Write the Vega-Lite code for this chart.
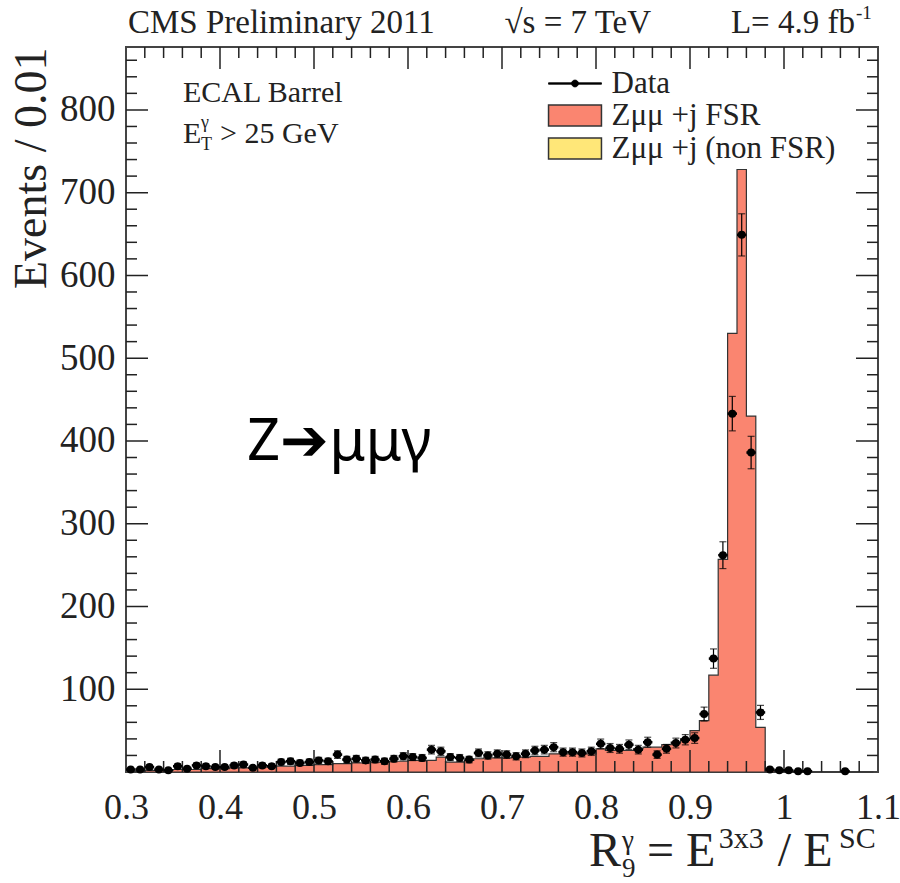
{
  "$schema": "https://vega.github.io/schema/vega-lite/v6.json",
  "autosize": {"type": "none"},
  "width": 752,
  "height": 725,
  "padding": {"left": 126, "top": 47, "right": 22, "bottom": 111},
  "background": "#ffffff",
  "config": {
    "view": {"stroke": "#444444", "strokeWidth": 2},
    "axis": {
      "domain": false,
      "ticks": false,
      "grid": false,
      "labelFont": "Liberation Serif",
      "titleFont": "Liberation Serif",
      "labelColor": "#222222",
      "titleColor": "#222222",
      "labelFontSize": 37,
      "titleFontWeight": "normal"
    },
    "text": {"font": "Liberation Serif", "color": "#222222"}
  },
  "datasets": {
    "r9": [
      {"r9": 0.305, "mc": 1, "n": 3, "err": 1.7},
      {"r9": 0.315, "mc": 1, "n": 3, "err": 1.7},
      {"r9": 0.325, "mc": 2, "n": 6, "err": 2.4},
      {"r9": 0.335, "mc": 2, "n": 3, "err": 1.7},
      {"r9": 0.345, "mc": 2, "n": 2, "err": 1.4},
      {"r9": 0.355, "mc": 3, "n": 7, "err": 2.6},
      {"r9": 0.365, "mc": 3, "n": 4, "err": 2.0},
      {"r9": 0.375, "mc": 3, "n": 8, "err": 2.8},
      {"r9": 0.385, "mc": 4, "n": 7, "err": 2.6},
      {"r9": 0.395, "mc": 4, "n": 6, "err": 2.4},
      {"r9": 0.405, "mc": 4, "n": 6, "err": 2.4},
      {"r9": 0.415, "mc": 5, "n": 8, "err": 2.8},
      {"r9": 0.425, "mc": 5, "n": 9, "err": 3.0},
      {"r9": 0.435, "mc": 5, "n": 5, "err": 2.2},
      {"r9": 0.445, "mc": 6, "n": 8, "err": 2.8},
      {"r9": 0.455, "mc": 6, "n": 7, "err": 2.6},
      {"r9": 0.465, "mc": 7, "n": 12, "err": 3.5},
      {"r9": 0.475, "mc": 7, "n": 13, "err": 3.6},
      {"r9": 0.485, "mc": 8, "n": 11, "err": 3.3},
      {"r9": 0.495, "mc": 8, "n": 12, "err": 3.5},
      {"r9": 0.505, "mc": 9, "n": 14, "err": 3.7},
      {"r9": 0.515, "mc": 9, "n": 13, "err": 3.6},
      {"r9": 0.525, "mc": 10, "n": 21, "err": 4.6},
      {"r9": 0.535, "mc": 10, "n": 15, "err": 3.9},
      {"r9": 0.545, "mc": 11, "n": 16, "err": 4.0},
      {"r9": 0.555, "mc": 11, "n": 14, "err": 3.7},
      {"r9": 0.565, "mc": 12, "n": 15, "err": 3.9},
      {"r9": 0.575, "mc": 12, "n": 13, "err": 3.6},
      {"r9": 0.585, "mc": 13, "n": 16, "err": 4.0},
      {"r9": 0.595, "mc": 13, "n": 19, "err": 4.4},
      {"r9": 0.605, "mc": 14, "n": 18, "err": 4.2},
      {"r9": 0.615, "mc": 14, "n": 17, "err": 4.1},
      {"r9": 0.625, "mc": 14, "n": 27, "err": 5.2},
      {"r9": 0.635, "mc": 18, "n": 25, "err": 5.0},
      {"r9": 0.645, "mc": 12, "n": 18, "err": 4.2},
      {"r9": 0.655, "mc": 12, "n": 17, "err": 4.1},
      {"r9": 0.665, "mc": 14, "n": 15, "err": 3.9},
      {"r9": 0.675, "mc": 16, "n": 23, "err": 4.8},
      {"r9": 0.685, "mc": 17, "n": 20, "err": 4.5},
      {"r9": 0.695, "mc": 17, "n": 22, "err": 4.7},
      {"r9": 0.705, "mc": 17, "n": 21, "err": 4.6},
      {"r9": 0.715, "mc": 18, "n": 19, "err": 4.4},
      {"r9": 0.725, "mc": 18, "n": 22, "err": 4.7},
      {"r9": 0.735, "mc": 19, "n": 26, "err": 5.1},
      {"r9": 0.745, "mc": 19, "n": 27, "err": 5.2},
      {"r9": 0.755, "mc": 22, "n": 30, "err": 5.5},
      {"r9": 0.765, "mc": 22, "n": 24, "err": 4.9},
      {"r9": 0.775, "mc": 22, "n": 24, "err": 4.9},
      {"r9": 0.785, "mc": 22, "n": 23, "err": 4.8},
      {"r9": 0.795, "mc": 22, "n": 25, "err": 5.0},
      {"r9": 0.805, "mc": 28, "n": 34, "err": 5.8},
      {"r9": 0.815, "mc": 26, "n": 29, "err": 5.4},
      {"r9": 0.825, "mc": 26, "n": 28, "err": 5.3},
      {"r9": 0.835, "mc": 26, "n": 33, "err": 5.7},
      {"r9": 0.845, "mc": 28, "n": 27, "err": 5.2},
      {"r9": 0.855, "mc": 30, "n": 36, "err": 6.0},
      {"r9": 0.865, "mc": 30, "n": 21, "err": 4.6},
      {"r9": 0.875, "mc": 33, "n": 28, "err": 5.3},
      {"r9": 0.885, "mc": 36, "n": 35, "err": 5.9},
      {"r9": 0.895, "mc": 40, "n": 39, "err": 6.2},
      {"r9": 0.905, "mc": 50, "n": 41, "err": 6.4},
      {"r9": 0.915, "mc": 62, "n": 70, "err": 8.4},
      {"r9": 0.925, "mc": 117, "n": 137, "err": 11.7},
      {"r9": 0.935, "mc": 257, "n": 262, "err": 16.2},
      {"r9": 0.945, "mc": 530, "n": 433, "err": 20.8},
      {"r9": 0.955, "mc": 728, "n": 649, "err": 25.5},
      {"r9": 0.965, "mc": 430, "n": 386, "err": 19.6},
      {"r9": 0.975, "mc": 54, "n": 72, "err": 8.5},
      {"r9": 0.985, "mc": 2, "n": 3, "err": 1.7},
      {"r9": 0.995, "mc": 0, "n": 2, "err": 1.4},
      {"r9": 1.005, "mc": 0, "n": 2, "err": 1.4},
      {"r9": 1.015, "mc": 0, "n": 1, "err": 1.0},
      {"r9": 1.025, "mc": 0, "n": 1, "err": 1.0},
      {"r9": 1.035, "mc": 0, "n": 0, "err": 0},
      {"r9": 1.045, "mc": 0, "n": 0, "err": 0},
      {"r9": 1.055, "mc": 0, "n": 0, "err": 0},
      {"r9": 1.065, "mc": 0, "n": 1, "err": 1.0},
      {"r9": 1.075, "mc": 0, "n": 0, "err": 0},
      {"r9": 1.085, "mc": 0, "n": 0, "err": 0},
      {"r9": 1.095, "mc": 0, "n": 0, "err": 0}
    ],
    "xTickMajor": [
      {"r9": 0.4, "events": 0}, {"r9": 0.5, "events": 0}, {"r9": 0.6, "events": 0}, {"r9": 0.7, "events": 0},
      {"r9": 0.8, "events": 0}, {"r9": 0.9, "events": 0}, {"r9": 1.0, "events": 0},
      {"r9": 0.4, "events": 876}, {"r9": 0.5, "events": 876}, {"r9": 0.6, "events": 876}, {"r9": 0.7, "events": 876},
      {"r9": 0.8, "events": 876}, {"r9": 0.9, "events": 876}, {"r9": 1.0, "events": 876}
    ],
    "xTickMinor": [
      {"r9": 0.32, "events": 0}, {"r9": 0.34, "events": 0}, {"r9": 0.36, "events": 0}, {"r9": 0.38, "events": 0},
      {"r9": 0.42, "events": 0}, {"r9": 0.44, "events": 0}, {"r9": 0.46, "events": 0}, {"r9": 0.48, "events": 0},
      {"r9": 0.52, "events": 0}, {"r9": 0.54, "events": 0}, {"r9": 0.56, "events": 0}, {"r9": 0.58, "events": 0},
      {"r9": 0.62, "events": 0}, {"r9": 0.64, "events": 0}, {"r9": 0.66, "events": 0}, {"r9": 0.68, "events": 0},
      {"r9": 0.72, "events": 0}, {"r9": 0.74, "events": 0}, {"r9": 0.76, "events": 0}, {"r9": 0.78, "events": 0},
      {"r9": 0.82, "events": 0}, {"r9": 0.84, "events": 0}, {"r9": 0.86, "events": 0}, {"r9": 0.88, "events": 0},
      {"r9": 0.92, "events": 0}, {"r9": 0.94, "events": 0}, {"r9": 0.96, "events": 0}, {"r9": 0.98, "events": 0},
      {"r9": 1.02, "events": 0}, {"r9": 1.04, "events": 0}, {"r9": 1.06, "events": 0}, {"r9": 1.08, "events": 0},
      {"r9": 0.32, "events": 876}, {"r9": 0.34, "events": 876}, {"r9": 0.36, "events": 876}, {"r9": 0.38, "events": 876},
      {"r9": 0.42, "events": 876}, {"r9": 0.44, "events": 876}, {"r9": 0.46, "events": 876}, {"r9": 0.48, "events": 876},
      {"r9": 0.52, "events": 876}, {"r9": 0.54, "events": 876}, {"r9": 0.56, "events": 876}, {"r9": 0.58, "events": 876},
      {"r9": 0.62, "events": 876}, {"r9": 0.64, "events": 876}, {"r9": 0.66, "events": 876}, {"r9": 0.68, "events": 876},
      {"r9": 0.72, "events": 876}, {"r9": 0.74, "events": 876}, {"r9": 0.76, "events": 876}, {"r9": 0.78, "events": 876},
      {"r9": 0.82, "events": 876}, {"r9": 0.84, "events": 876}, {"r9": 0.86, "events": 876}, {"r9": 0.88, "events": 876},
      {"r9": 0.92, "events": 876}, {"r9": 0.94, "events": 876}, {"r9": 0.96, "events": 876}, {"r9": 0.98, "events": 876},
      {"r9": 1.02, "events": 876}, {"r9": 1.04, "events": 876}, {"r9": 1.06, "events": 876}, {"r9": 1.08, "events": 876}
    ],
    "yTickMajor": [
      {"r9": 0.3, "events": 100}, {"r9": 0.3, "events": 200}, {"r9": 0.3, "events": 300}, {"r9": 0.3, "events": 400},
      {"r9": 0.3, "events": 500}, {"r9": 0.3, "events": 600}, {"r9": 0.3, "events": 700}, {"r9": 0.3, "events": 800},
      {"r9": 1.1, "events": 100}, {"r9": 1.1, "events": 200}, {"r9": 1.1, "events": 300}, {"r9": 1.1, "events": 400},
      {"r9": 1.1, "events": 500}, {"r9": 1.1, "events": 600}, {"r9": 1.1, "events": 700}, {"r9": 1.1, "events": 800}
    ],
    "yTickMinor": [
      {"r9": 0.3, "events": 20}, {"r9": 0.3, "events": 40}, {"r9": 0.3, "events": 60}, {"r9": 0.3, "events": 80},
      {"r9": 0.3, "events": 120}, {"r9": 0.3, "events": 140}, {"r9": 0.3, "events": 160}, {"r9": 0.3, "events": 180},
      {"r9": 0.3, "events": 220}, {"r9": 0.3, "events": 240}, {"r9": 0.3, "events": 260}, {"r9": 0.3, "events": 280},
      {"r9": 0.3, "events": 320}, {"r9": 0.3, "events": 340}, {"r9": 0.3, "events": 360}, {"r9": 0.3, "events": 380},
      {"r9": 0.3, "events": 420}, {"r9": 0.3, "events": 440}, {"r9": 0.3, "events": 460}, {"r9": 0.3, "events": 480},
      {"r9": 0.3, "events": 520}, {"r9": 0.3, "events": 540}, {"r9": 0.3, "events": 560}, {"r9": 0.3, "events": 580},
      {"r9": 0.3, "events": 620}, {"r9": 0.3, "events": 640}, {"r9": 0.3, "events": 660}, {"r9": 0.3, "events": 680},
      {"r9": 0.3, "events": 720}, {"r9": 0.3, "events": 740}, {"r9": 0.3, "events": 760}, {"r9": 0.3, "events": 780},
      {"r9": 0.3, "events": 820}, {"r9": 0.3, "events": 840}, {"r9": 0.3, "events": 860},
      {"r9": 1.1, "events": 20}, {"r9": 1.1, "events": 40}, {"r9": 1.1, "events": 60}, {"r9": 1.1, "events": 80},
      {"r9": 1.1, "events": 120}, {"r9": 1.1, "events": 140}, {"r9": 1.1, "events": 160}, {"r9": 1.1, "events": 180},
      {"r9": 1.1, "events": 220}, {"r9": 1.1, "events": 240}, {"r9": 1.1, "events": 260}, {"r9": 1.1, "events": 280},
      {"r9": 1.1, "events": 320}, {"r9": 1.1, "events": 340}, {"r9": 1.1, "events": 360}, {"r9": 1.1, "events": 380},
      {"r9": 1.1, "events": 420}, {"r9": 1.1, "events": 440}, {"r9": 1.1, "events": 460}, {"r9": 1.1, "events": 480},
      {"r9": 1.1, "events": 520}, {"r9": 1.1, "events": 540}, {"r9": 1.1, "events": 560}, {"r9": 1.1, "events": 580},
      {"r9": 1.1, "events": 620}, {"r9": 1.1, "events": 640}, {"r9": 1.1, "events": 660}, {"r9": 1.1, "events": 680},
      {"r9": 1.1, "events": 720}, {"r9": 1.1, "events": 740}, {"r9": 1.1, "events": 760}, {"r9": 1.1, "events": 780},
      {"r9": 1.1, "events": 820}, {"r9": 1.1, "events": 840}, {"r9": 1.1, "events": 860}
    ]
  },
  "resolve": {"axis": {"x": "independent", "y": "independent"}},
  "layer": [
    {
      "data": {"name": "r9"},
      "mark": {"type": "area", "interpolate": "step", "stroke": "#333333", "strokeWidth": 1.2, "opacity": 1},
      "encoding": {
        "x": {
          "field": "r9", "type": "quantitative",
          "scale": {"domain": [0.3, 1.1], "nice": false, "zero": false},
          "axis": {"orient": "bottom", "values": [0.3, 0.4, 0.5, 0.6, 0.7, 0.8, 0.9, 1.0, 1.1], "format": "~g", "labelPadding": 18, "labelFontSize": 36, "labelFlush": false, "labelOverlap": false, "labelBound": false, "title": null}
        },
        "y": {
          "field": "mc", "type": "quantitative",
          "scale": {"domain": [0, 876], "nice": false},
          "axis": {"orient": "left", "values": [100, 200, 300, 400, 500, 600, 700, 800], "labelPadding": 11, "labelOverlap": false, "labelBound": false, "title": "Events / 0.01", "titleFontSize": 46, "titleAnchor": "end", "titlePadding": 4}
        },
        "color": {
          "datum": "Zμμ +j FSR", "type": "nominal",
          "scale": {"domain": ["Zμμ +j FSR", "Zμμ +j (non FSR)"], "range": ["#FA8570", "#FFE778"]},
          "legend": {
            "title": null, "orient": "none", "legendX": 422, "legendY": 53,
            "symbolType": "M-2.52,-1H2.52V1H-2.52Z",
            "symbolSize": 441, "symbolOffset": 11.5, "labelOffset": 21,
            "symbolStrokeColor": "#333333", "symbolStrokeWidth": 1.5,
            "labelFont": "Liberation Serif", "labelFontSize": 31, "labelColor": "#222222", "labelLimit": 400,
            "rowPadding": 1, "padding": 0
          }
        }
      }
    },
    {
      "data": {"name": "xTickMajor"},
      "mark": {"type": "tick", "orient": "vertical", "size": 44, "thickness": 1.5, "color": "#222222", "opacity": 1, "clip": true},
      "encoding": {
        "x": {"field": "r9", "type": "quantitative", "axis": null},
        "y": {"field": "events", "type": "quantitative", "axis": null}
      }
    },
    {
      "data": {"name": "xTickMinor"},
      "mark": {"type": "tick", "orient": "vertical", "size": 22, "thickness": 1.5, "color": "#222222", "opacity": 1, "clip": true},
      "encoding": {
        "x": {"field": "r9", "type": "quantitative", "axis": null},
        "y": {"field": "events", "type": "quantitative", "axis": null}
      }
    },
    {
      "data": {"name": "yTickMajor"},
      "mark": {"type": "tick", "orient": "horizontal", "size": 44, "thickness": 1.5, "color": "#222222", "opacity": 1, "clip": true},
      "encoding": {
        "x": {"field": "r9", "type": "quantitative", "axis": null},
        "y": {"field": "events", "type": "quantitative", "axis": null}
      }
    },
    {
      "data": {"name": "yTickMinor"},
      "mark": {"type": "tick", "orient": "horizontal", "size": 22, "thickness": 1.5, "color": "#222222", "opacity": 1, "clip": true},
      "encoding": {
        "x": {"field": "r9", "type": "quantitative", "axis": null},
        "y": {"field": "events", "type": "quantitative", "axis": null}
      }
    },
    {
      "data": {"name": "r9"},
      "transform": [{"filter": "datum.n > 0"}],
      "mark": {"type": "tick", "orient": "horizontal", "size": 9.4, "thickness": 2.5, "color": "#000000", "opacity": 1},
      "encoding": {
        "x": {"field": "r9", "type": "quantitative", "axis": null},
        "y": {"field": "n", "type": "quantitative", "axis": null}
      }
    },
    {
      "data": {"name": "r9"},
      "transform": [{"filter": "datum.n > 0"}],
      "mark": {"type": "errorbar", "color": "#000000", "thickness": 1.2, "ticks": {"size": 7, "thickness": 1.2}},
      "encoding": {
        "x": {"field": "r9", "type": "quantitative", "axis": null},
        "y": {"field": "n", "type": "quantitative", "axis": null},
        "yError": {"field": "err"}
      }
    },
    {
      "data": {"name": "r9"},
      "transform": [{"filter": "datum.n > 0"}],
      "mark": {"type": "point", "shape": "circle", "filled": true, "size": 64, "opacity": 1},
      "encoding": {
        "x": {"field": "r9", "type": "quantitative", "axis": null},
        "y": {"field": "n", "type": "quantitative", "axis": null},
        "fill": {
          "datum": "Data", "type": "nominal",
          "scale": {"domain": ["Data"], "range": ["#000000"]},
          "legend": {
            "title": null, "orient": "none", "legendX": 422, "legendY": 21,
            "symbolType": "M-2.52,-0.07H2.52V0.07H-2.52ZM0.33,0A0.33,0.33,0,1,1,-0.33,0A0.33,0.33,0,1,1,0.33,0Z",
            "symbolSize": 441, "symbolOffset": 11.5, "labelOffset": 21,
            "symbolStrokeColor": "#000000", "symbolStrokeWidth": 0.8, "symbolOpacity": 1,
            "labelFont": "Liberation Serif", "labelFontSize": 31, "labelColor": "#222222", "labelLimit": 400,
            "padding": 0
          }
        }
      }
    },
    {
      "data": {"values": [{}]},
      "mark": {"type": "text", "text": "CMS Preliminary 2011", "align": "left", "baseline": "alphabetic", "fontSize": 33},
      "encoding": {
        "x": {"datum": 0.3021, "type": "quantitative", "axis": null},
        "y": {"datum": 892.9, "type": "quantitative", "axis": null}
      }
    },
    {
      "data": {"values": [{}]},
      "mark": {"type": "text", "text": "√s = 7 TeV", "align": "left", "baseline": "alphabetic", "fontSize": 33},
      "encoding": {
        "x": {"datum": 0.7026, "type": "quantitative", "axis": null},
        "y": {"datum": 892.9, "type": "quantitative", "axis": null}
      }
    },
    {
      "data": {"values": [{}]},
      "mark": {"type": "text", "text": "L= 4.9 fb", "align": "right", "baseline": "alphabetic", "fontSize": 33},
      "encoding": {
        "x": {"datum": 1.0755, "type": "quantitative", "axis": null},
        "y": {"datum": 892.9, "type": "quantitative", "axis": null}
      }
    },
    {
      "data": {"values": [{}]},
      "mark": {"type": "text", "text": "-1", "align": "left", "baseline": "alphabetic", "fontSize": 19},
      "encoding": {
        "x": {"datum": 1.0766, "type": "quantitative", "axis": null},
        "y": {"datum": 910, "type": "quantitative", "axis": null}
      }
    },
    {
      "data": {"values": [{}]},
      "mark": {"type": "text", "text": "ECAL Barrel", "align": "left", "baseline": "alphabetic", "fontSize": 30},
      "encoding": {
        "x": {"datum": 0.3606, "type": "quantitative", "axis": null},
        "y": {"datum": 809.5, "type": "quantitative", "axis": null}
      }
    },
    {
      "data": {"values": [{}]},
      "mark": {"type": "text", "text": "E", "align": "left", "baseline": "alphabetic", "fontSize": 30},
      "encoding": {
        "x": {"datum": 0.3606, "type": "quantitative", "axis": null},
        "y": {"datum": 760, "type": "quantitative", "axis": null}
      }
    },
    {
      "data": {"values": [{}]},
      "mark": {"type": "text", "text": "γ", "align": "left", "baseline": "alphabetic", "fontSize": 18},
      "encoding": {
        "x": {"datum": 0.3798, "type": "quantitative", "axis": null},
        "y": {"datum": 778, "type": "quantitative", "axis": null}
      }
    },
    {
      "data": {"values": [{}]},
      "mark": {"type": "text", "text": "T", "align": "left", "baseline": "alphabetic", "fontSize": 18},
      "encoding": {
        "x": {"datum": 0.3798, "type": "quantitative", "axis": null},
        "y": {"datum": 751.5, "type": "quantitative", "axis": null}
      }
    },
    {
      "data": {"values": [{}]},
      "mark": {"type": "text", "text": "> 25 GeV", "align": "left", "baseline": "alphabetic", "fontSize": 30},
      "encoding": {
        "x": {"datum": 0.4, "type": "quantitative", "axis": null},
        "y": {"datum": 760, "type": "quantitative", "axis": null}
      }
    },
    {
      "data": {"values": [{}]},
      "mark": {"type": "text", "text": "Z➔μμγ", "align": "left", "baseline": "alphabetic", "font": "Noto Sans", "fontSize": 58, "color": "#000000"},
      "encoding": {
        "x": {"datum": 0.4287, "type": "quantitative", "axis": null},
        "y": {"datum": 377, "type": "quantitative", "axis": null}
      }
    },
    {
      "data": {"values": [{}]},
      "mark": {"type": "text", "text": "R", "align": "left", "baseline": "alphabetic", "fontSize": 48},
      "encoding": {
        "x": {"datum": 0.7926, "type": "quantitative", "axis": null},
        "y": {"datum": -113.6, "type": "quantitative", "axis": null}
      }
    },
    {
      "data": {"values": [{}]},
      "mark": {"type": "text", "text": "γ", "align": "left", "baseline": "alphabetic", "fontSize": 27},
      "encoding": {
        "x": {"datum": 0.8277, "type": "quantitative", "axis": null},
        "y": {"datum": -93, "type": "quantitative", "axis": null}
      }
    },
    {
      "data": {"values": [{}]},
      "mark": {"type": "text", "text": "9", "align": "left", "baseline": "alphabetic", "fontSize": 27},
      "encoding": {
        "x": {"datum": 0.8277, "type": "quantitative", "axis": null},
        "y": {"datum": -127, "type": "quantitative", "axis": null}
      }
    },
    {
      "data": {"values": [{}]},
      "mark": {"type": "text", "text": "= E", "align": "left", "baseline": "alphabetic", "fontSize": 48},
      "encoding": {
        "x": {"datum": 0.8542, "type": "quantitative", "axis": null},
        "y": {"datum": -113.6, "type": "quantitative", "axis": null}
      }
    },
    {
      "data": {"values": [{}]},
      "mark": {"type": "text", "text": "3x3", "align": "left", "baseline": "alphabetic", "fontSize": 30},
      "encoding": {
        "x": {"datum": 0.9306, "type": "quantitative", "axis": null},
        "y": {"datum": -92, "type": "quantitative", "axis": null}
      }
    },
    {
      "data": {"values": [{}]},
      "mark": {"type": "text", "text": "/ E", "align": "left", "baseline": "alphabetic", "fontSize": 48},
      "encoding": {
        "x": {"datum": 0.9934, "type": "quantitative", "axis": null},
        "y": {"datum": -113.6, "type": "quantitative", "axis": null}
      }
    },
    {
      "data": {"values": [{}]},
      "mark": {"type": "text", "text": "SC", "align": "left", "baseline": "alphabetic", "fontSize": 30},
      "encoding": {
        "x": {"datum": 1.0585, "type": "quantitative", "axis": null},
        "y": {"datum": -92, "type": "quantitative", "axis": null}
      }
    }
  ]
}
